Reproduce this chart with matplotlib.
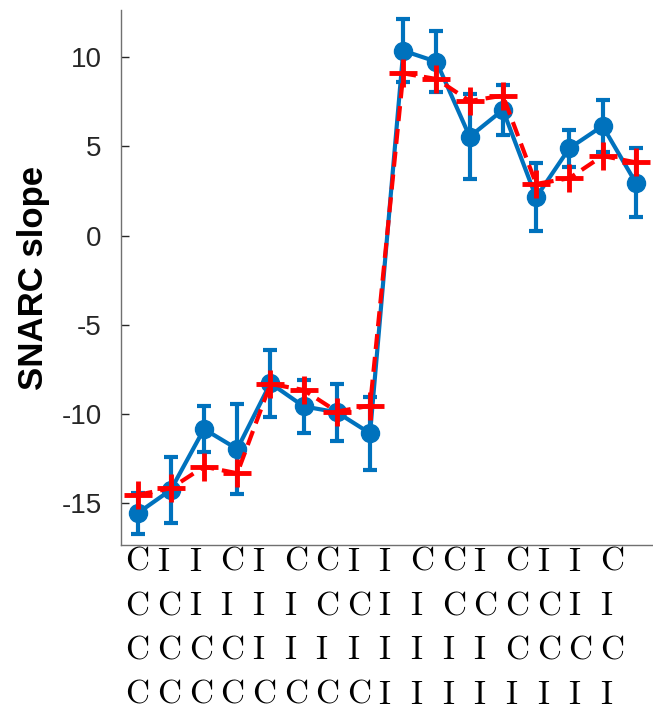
import numpy as np
import matplotlib
matplotlib.use('Agg')
import matplotlib.pyplot as plt

plt.rcParams['font.family'] = ['Liberation Sans', 'DejaVu Sans']
plt.rcParams['axes.unicode_minus'] = False

# condition sequences for each position (rows of the x labels)
row1 = ['C', 'I', 'I', 'C', 'I', 'C', 'C', 'I', 'I', 'C', 'C', 'I', 'C', 'I', 'I', 'C']
row2 = ['C', 'C', 'I', 'I', 'I', 'I', 'C', 'C', 'I', 'I', 'C', 'C', 'C', 'C', 'I', 'I']
row3 = ['C', 'C', 'C', 'C', 'I', 'I', 'I', 'I', 'I', 'I', 'I', 'I', 'C', 'C', 'C', 'C']
row4 = ['C', 'C', 'C', 'C', 'C', 'C', 'C', 'C', 'I', 'I', 'I', 'I', 'I', 'I', 'I', 'I']

# observed slopes (mean, s.e.) and model prediction
observed = [-15.56, -14.25, -10.84, -11.96, -8.27, -9.57, -9.9, -11.08,
            10.37, 9.75, 5.55, 7.05, 2.15, 4.9, 6.15, 2.97]
observed_err = [1.15, 1.87, 1.3, 2.5, 1.87, 1.5, 1.6, 2.03,
                1.75, 1.7, 2.4, 1.4, 1.9, 1.05, 1.45, 1.95]
model = [-14.53, -14.16, -12.95, -13.32, -8.31, -8.65, -9.86, -9.53,
         9.1, 8.78, 7.55, 7.85, 2.9, 3.22, 4.47, 4.11]

x = np.arange(1, len(observed) + 1)

fig = plt.figure(figsize=(6.53, 7.10), dpi=100)
ax = fig.add_axes([0.1853, 0.2324, 0.8137, 0.7535])

blue = '#0072BD'
ax.errorbar(x, observed, yerr=observed_err, color=blue, marker='o',
            markersize=13, linewidth=3, elinewidth=3, capsize=4.7,
            capthick=3, zorder=2)
ax.plot(x, model, color='red', linestyle='--', dashes=(3.6, 1.9), linewidth=3,
        marker='+', markersize=20, markeredgewidth=3.5, zorder=3)

ax.set_xlim(0.5, 16.5)
ax.set_ylim(-17.34, 12.65)
ax.set_yticks([-15, -10, -5, 0, 5, 10])
ax.set_xticks([])
for side in ['top', 'right']:
    ax.spines[side].set_visible(False)
for side in ['left', 'bottom']:
    ax.spines[side].set_color('#707070')
    ax.spines[side].set_linewidth(1.0)
ax.tick_params(axis='y', direction='in', length=6, width=1, color='#262626',
               labelsize=20, labelcolor='#262626', pad=14)

ax.set_ylabel('SNARC slope', fontsize=25, fontweight='bold', labelpad=8)

# stacked condition labels under the axis
col_step = 31.67 / 532.0
col_left = 4.5 / 532.0
row_y = [-0.032, -0.115, -0.198, -0.281]
for r, row in enumerate([row1, row2, row3, row4]):
    for i, letter in enumerate(row):
        ax.text(col_left + i * col_step, row_y[r], letter, transform=ax.transAxes,
                fontfamily='cmr10', fontsize=24, ha='left', va='center',
                color='black', clip_on=False)

fig.savefig('out.png', dpi=100)
